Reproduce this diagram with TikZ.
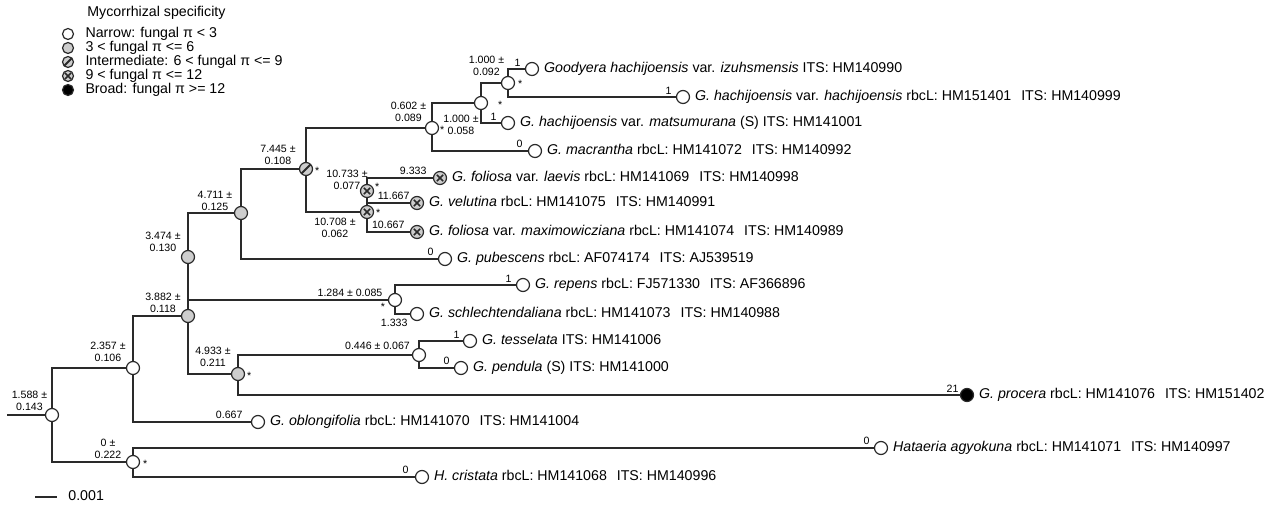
\documentclass[tikz,border=0pt]{standalone}
\usepackage{fontspec}
\setmainfont{Liberation Sans}
\usepackage{tikz}
\usetikzlibrary{positioning, calc}
\definecolor{treeLine}{HTML}{2a2a2a}
\definecolor{nodeGrey}{HTML}{cdcdcd}
\newcommand{\rbcl}[1]{rbcL: #1\hspace{0.7em}}
\newcommand{\its}[1]{ITS: #1}

\begin{document}
\begin{tikzpicture}[x=0.5pt, y=-0.5pt,
  branch/.style={draw=treeLine, line width=0.6pt},
  tnode/.style={circle, draw=treeLine, line width=0.6pt, minimum size=6.5pt, inner sep=0pt, fill=white},
  narrow/.style={tnode},
  mid/.style={tnode, fill=nodeGrey},
  inter/.style={tnode, fill=nodeGrey, path picture={\draw[line width=0.9pt] ([shift={(-2.6pt,-2.6pt)}]path picture bounding box.center)--([shift={(2.6pt,2.6pt)}]path picture bounding box.center);}},
  cross/.style={tnode, fill=nodeGrey, path picture={\draw[line width=0.75pt] ([shift={(-1.6pt,-1.6pt)}]path picture bounding box.center)--([shift={(1.6pt,1.6pt)}]path picture bounding box.center) ([shift={(-1.6pt,1.6pt)}]path picture bounding box.center)--([shift={(1.6pt,-1.6pt)}]path picture bounding box.center);}},
  broad/.style={tnode, fill=black},
  legsym/.style={minimum size=5.5pt},
  leaf/.style={font=\fontsize{7.1}{8.5}\selectfont, inner sep=0pt, anchor=west, text height=5.2pt, text depth=1.2pt},
  nlab/.style={font=\fontsize{5.3}{6}\selectfont, align=center, inner sep=0pt},
  blen/.style={font=\fontsize{5.3}{6}\selectfont, inner sep=0pt, anchor=south east},
  star/.style={font=\fontsize{5.3}{6}\selectfont, inner sep=0pt}]
\useasboundingbox (0,0) rectangle (1276,506);

% legend
\node[leaf] (legTitle) at (87,13) {Mycorrhizal specificity};
\node[narrow, legsym] (lgA) at (68,34) {};
\node[mid, legsym] (lgB) at (68,48) {};
\node[inter, legsym] (lgC) at (68,62) {};
\node[cross, legsym] (lgD) at (68,76) {};
\node[broad, legsym] (lgE) at (68,90) {};
\node[leaf, right=5.5pt of lgA] {Narrow: fungal π < 3};
\node[leaf, right=5.5pt of lgB] {3 < fungal π <= 6};
\node[leaf, right=5.5pt of lgC] {Intermediate: 6 < fungal π <= 9};
\node[leaf, right=5.5pt of lgD] {9 < fungal π <= 12};
\node[leaf, right=5.5pt of lgE] {Broad: fungal π >= 12};

% internal nodes
\node[narrow] (root) at (52,415) {};
\node[narrow] (n2357) at (133,368) {};
\node[narrow] (n0222) at (133,462) {};
\node[mid] (n3882) at (188,316) {};
\node[mid] (n3474) at (188,257) {};
\node[mid] (n4711) at (241,213) {};
\node[inter] (n7445) at (306,169) {};
\node[narrow] (n0602) at (432,128) {};
\node[narrow] (nC) at (481,103) {};
\node[narrow] (nD) at (508,83) {};
\node[cross] (nE) at (367,191) {};
\node[cross] (nF) at (367,212) {};
\node[narrow] (n1284) at (395,300) {};
\node[mid] (n4933) at (238,374) {};
\node[narrow] (n0446) at (419,355) {};

% leaves
\node[narrow] (good) at (532,69) {};
\node[narrow] (hach) at (683,97) {};
\node[narrow] (mats) at (508,123) {};
\node[narrow] (macr) at (535,151) {};
\node[cross] (laev) at (440,178) {};
\node[cross] (vel) at (417,203) {};
\node[cross] (maxi) at (417,232) {};
\node[narrow] (pub) at (445,259) {};
\node[narrow] (rep) at (523,285) {};
\node[narrow] (schl) at (417,314) {};
\node[narrow] (tess) at (470,341) {};
\node[narrow] (pend) at (461,368) {};
\node[broad] (proc) at (967,395) {};
\node[narrow] (obl) at (258,422) {};
\node[narrow] (hata) at (881,448) {};
\node[narrow] (cris) at (422,477) {};

% branches
\coordinate (stub) at (7,415);
\draw[branch] (stub)--(root);
\draw[branch] (root)|-(n2357); \draw[branch] (root)|-(n0222);
\draw[branch] (n2357)|-(n3882); \draw[branch] (n2357)|-(obl);
\draw[branch] (n0222)|-(hata); \draw[branch] (n0222)|-(cris);
\draw[branch] (n3882)--(n3474); \draw[branch] (n3882)|-(n4933);
\draw[branch] (n3474)|-(n4711); \draw[branch] (n3474)|-(n1284);
\draw[branch, line width=1.2pt] (n3474)--(n3474|-n1284);
\draw[branch] (n4711)|-(n7445); \draw[branch] (n4711)|-(pub);
\draw[branch] (n7445)|-(n0602); \draw[branch] (n7445)|-(nF);
\draw[branch] (n0602)|-(nC); \draw[branch] (n0602)|-(macr);
\draw[branch] (nC)|-(nD); \draw[branch] (nC)|-(mats);
\draw[branch] (nD)|-(good); \draw[branch] (nD)|-(hach);
\draw[branch] (nF)--(nE); \draw[branch] (nF)|-(maxi);
\draw[branch] (nE)|-(laev); \draw[branch] (nE)|-(vel);
\draw[branch] (n1284)|-(rep); \draw[branch] (n1284)|-(schl);
\draw[branch] (n4933)|-(n0446); \draw[branch] (n4933)|-(proc);
\draw[branch] (n0446)|-(tess); \draw[branch] (n0446)|-(pend);

% node values
\node[nlab] at ($(root)+(-22.5,-14)$) {1.588 ±\\0.143};
\node[nlab] at ($(n2357)+(-25,-16)$) {2.357 ±\\0.106};
\node[nlab] at ($(n0222)+(-25,-13.5)$) {0 ±\\0.222};
\node[nlab] at ($(n3882)+(-25,-13)$) {3.882 ±\\0.118};
\node[nlab] at ($(n3474)+(-25,-15)$) {3.474 ±\\0.130};
\node[nlab] at ($(n4711)+(-26,-12)$) {4.711 ±\\0.125};
\node[nlab] at ($(n7445)+(-28,-14)$) {7.445 ±\\0.108};
\node[nlab] at ($(n0602)+(-23.5,-16.5)$) {0.602 ±\\0.089};
\node[nlab] at ($(nC)+(-20,22)$) {1.000 ±\\0.058};
\node[nlab] at ($(nD)+(-21.5,-17)$) {1.000 ±\\0.092};
\node[nlab] at ($(nE)+(-20,-11)$) {10.733 ±\\0.077};
\node[nlab] at ($(nF)+(-32,16)$) {10.708 ±\\0.062};
\node[nlab] at ($(n4933)+(-25,-17.5)$) {4.933 ±\\0.211};
\node[nlab] at ($(n1284)+(-45,-7)$) {1.284 ± 0.085};
\node[nlab] at ($(n0446)+(-41.5,-9)$) {0.446 ± 0.067};

% support marks
\node[star] at ($(n0602.east)+(3,2)$) {*};
\node[star] at ($(n7445.east)+(4,2)$) {*};
\node[star] at ($(nE.east)+(3,-4)$) {*};
\node[star] at ($(nF.east)+(4,1)$) {*};
\node[star] at ($(nD.east)+(5,1)$) {*};
\node[star] at ($(nC.east)+(12,2)$) {*};
\node[star] at ($(n4933.east)+(4,2)$) {*};
\node[star] at ($(n0222.east)+(5,2)$) {*};
\node[star] at ($(n1284.west)+(-5,7)$) {*};

% branch lengths
\node[blen] at ($(good.west)+(-4,-2.5)$) {1};
\node[blen] at ($(hach.west)+(-4,-2.5)$) {1};
\node[blen] at ($(mats.west)+(-4,-2.5)$) {1};
\node[blen] at ($(macr.west)+(-5,-2.5)$) {0};
\node[blen] at ($(laev.west)+(-6,-2.5)$) {9.333};
\node[blen] at ($(vel.west)+(0,-2.5)$) {11.667};
\node[blen] at ($(maxi.west)+(-5,-2.5)$) {10.667};
\node[blen] at ($(pub.west)+(-4,-2.5)$) {0};
\node[blen] at ($(rep.west)+(-4,-2.5)$) {1};
\node[blen, anchor=north east] at ($(schl.west)+(-2,5)$) {1.333};
\node[blen] at ($(tess.west)+(-3,-2.5)$) {1};
\node[blen] at ($(pend.west)+(-4,-2.5)$) {0};
\node[blen] at ($(proc.west)+(-1,-2.5)$) {21};
\node[blen] at ($(obl.west)+(-8,-2.5)$) {0.667};
\node[blen] at ($(hata.west)+(-4,-2.5)$) {0};
\node[blen] at ($(cris.west)+(-6,-2.5)$) {0};

% taxa
\node[leaf, right=2.3pt of good] {\textit{Goodyera hachijoensis} var. \textit{izuhsmensis} \its{HM140990}};
\node[leaf, right=2.3pt of hach] {\textit{G. hachijoensis} var. \textit{hachijoensis} \rbcl{HM151401}\its{HM140999}};
\node[leaf, right=2.3pt of mats] {\textit{G. hachijoensis} var. \textit{matsumurana} (S) \its{HM141001}};
\node[leaf, right=2.3pt of macr] {\textit{G. macrantha} \rbcl{HM141072}\its{HM140992}};
\node[leaf, right=2.3pt of laev] {\textit{G. foliosa} var. \textit{laevis} \rbcl{HM141069}\its{HM140998}};
\node[leaf, right=2.3pt of vel] {\textit{G. velutina} \rbcl{HM141075}\its{HM140991}};
\node[leaf, right=2.3pt of maxi] {\textit{G. foliosa} var. \textit{maximowicziana} \rbcl{HM141074}\its{HM140989}};
\node[leaf, right=2.3pt of pub] {\textit{G. pubescens} \rbcl{AF074174}\its{AJ539519}};
\node[leaf, right=2.3pt of rep] {\textit{G. repens} \rbcl{FJ571330}\its{AF366896}};
\node[leaf, right=2.3pt of schl] {\textit{G. schlechtendaliana} \rbcl{HM141073}\its{HM140988}};
\node[leaf, right=2.3pt of tess] {\textit{G. tesselata} \its{HM141006}};
\node[leaf, right=2.3pt of pend] {\textit{G. pendula} (S) \its{HM141000}};
\node[leaf, right=2.3pt of proc] {\textit{G. procera} \rbcl{HM141076}\its{HM151402}};
\node[leaf, right=2.3pt of obl] {\textit{G. oblongifolia} \rbcl{HM141070}\its{HM141004}};
\node[leaf, right=2.3pt of hata] {\textit{Hataeria agyokuna} \rbcl{HM141071}\its{HM140997}};
\node[leaf, right=2.3pt of cris] {\textit{H. cristata} \rbcl{HM141068}\its{HM140996}};

% scale
\coordinate (scaleA) at (35,497);
\coordinate (scaleB) at (57,497);
\draw[branch] (scaleA)--(scaleB);
\node[leaf, right=5.5pt of scaleB] {0.001};
\end{tikzpicture}
\end{document}
